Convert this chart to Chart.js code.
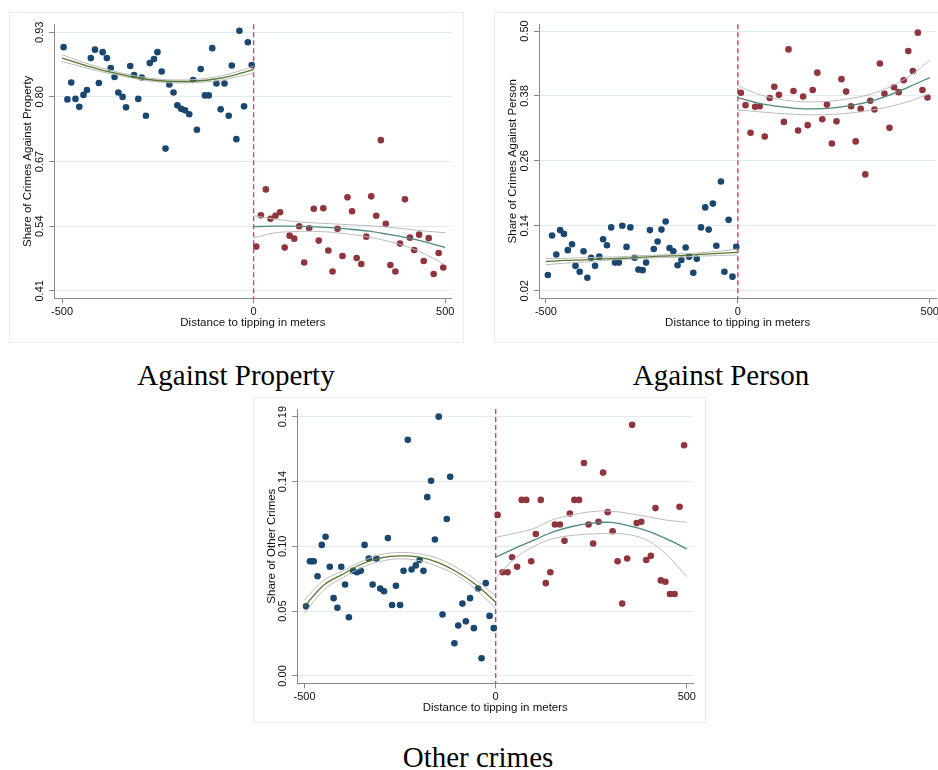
<!DOCTYPE html>
<html>
<head>
  <title>Crime shares around the tipping point</title>
  <script src="https://cdn.jsdelivr.net/npm/chart.js"></script>
  <style>
    body { margin: 0; background: #fff; width: 938px; height: 770px; overflow: hidden; position: relative; }
    .panel { position: absolute; border: 1px solid #e6eef0; box-sizing: border-box; background: #fff; }
    .panel canvas { position: absolute; left: -1px; top: -1px; }
    .caption { position: absolute; text-align: center; font-family: "Liberation Serif", "Times New Roman", serif; font-size: 29px; line-height: 34px; color: #000; }
  </style>
</head>
<body>

<div class="panel" style="left:9px; top:12px; width:455px; height:331px;"><canvas id="propChart" width="455" height="331"></canvas></div>
<div class="panel" style="left:494px; top:12px; width:455px; height:331px;"><canvas id="personChart" width="455" height="331"></canvas></div>
<div class="panel" style="left:253px; top:397px; width:453px; height:326px;"><canvas id="otherChart" width="453" height="326"></canvas></div>

<div class="caption" style="left:0; top:358px; width:472px;">Against Property</div>
<div class="caption" style="left:504px; top:358px; width:434px;">Against Person</div>
<div class="caption" style="left:278px; top:740px; width:400px;">Other crimes</div>

<script>
  // binned scatter points, left (before tipping) and right (after tipping)
  const propLeftX = [-496,-486,-476,-465,-455,-444,-435,-425,-414,-404,-394,-383,-373,-363,-353,-342,-333,-322,-312,-301,-292,-281,-271,-260,-251,-240,-230,-220,-209,-199,-189,-179,-168,-158,-148,-138,-127,-117,-108,-97,-86,-76,-65,-57,-45,-37,-25,-15,-5];
  const propLeftY = [0.900,0.795,0.829,0.796,0.780,0.804,0.814,0.878,0.895,0.828,0.890,0.878,0.858,0.840,0.809,0.800,0.779,0.862,0.844,0.796,0.839,0.762,0.868,0.876,0.890,0.851,0.696,0.825,0.809,0.783,0.776,0.773,0.765,0.834,0.734,0.856,0.803,0.803,0.898,0.827,0.775,0.827,0.762,0.863,0.715,0.933,0.781,0.910,0.864];
  const propRightX = [7,19,32,44,57,69,81,94,106,119,132,145,157,170,182,195,206,219,232,245,257,269,281,294,307,320,332,345,357,370,382,395,408,419,432,444,457,470,483,495];
  const propRightY = [0.499,0.562,0.614,0.555,0.561,0.568,0.497,0.521,0.515,0.540,0.467,0.536,0.575,0.511,0.576,0.491,0.449,0.535,0.480,0.598,0.570,0.476,0.464,0.519,0.600,0.561,0.713,0.545,0.462,0.449,0.505,0.594,0.517,0.492,0.523,0.470,0.516,0.444,0.486,0.457];

  const personLeftX = [-495,-484,-473,-463,-453,-443,-432,-423,-412,-402,-392,-382,-372,-361,-351,-341,-330,-320,-310,-301,-290,-280,-269,-259,-248,-239,-229,-219,-209,-199,-188,-178,-168,-157,-147,-136,-127,-116,-107,-96,-85,-76,-65,-56,-44,-35,-24,-14,-4];
  const personLeftY = [0.049,0.122,0.087,0.132,0.125,0.095,0.106,0.066,0.055,0.093,0.044,0.081,0.066,0.083,0.115,0.104,0.137,0.072,0.072,0.140,0.101,0.137,0.081,0.059,0.058,0.072,0.132,0.097,0.111,0.133,0.148,0.099,0.093,0.067,0.077,0.100,0.083,0.053,0.079,0.137,0.174,0.133,0.181,0.103,0.222,0.055,0.151,0.046,0.101];
  const personRightX = [8,20,33,45,57,70,83,95,107,120,132,145,157,170,182,195,207,220,232,245,257,270,282,295,307,320,332,345,356,370,382,395,407,419,432,444,456,469,481,494];
  const personRightY = [0.386,0.363,0.312,0.360,0.361,0.305,0.376,0.397,0.382,0.332,0.466,0.389,0.316,0.379,0.326,0.391,0.423,0.337,0.364,0.292,0.333,0.411,0.388,0.361,0.296,0.356,0.235,0.371,0.355,0.440,0.384,0.321,0.396,0.387,0.409,0.463,0.426,0.497,0.391,0.377];

  const otherLeftX = [-496,-486,-481,-476,-466,-455,-445,-434,-424,-414,-404,-394,-384,-373,-363,-353,-343,-332,-322,-312,-302,-292,-282,-271,-261,-250,-241,-230,-220,-209,-199,-189,-179,-169,-159,-149,-139,-128,-119,-108,-98,-87,-78,-67,-57,-46,-37,-26,-16,-5];
  const otherLeftY = [0.051,0.084,0.084,0.084,0.073,0.096,0.102,0.080,0.057,0.050,0.080,0.067,0.043,0.077,0.076,0.077,0.096,0.086,0.067,0.086,0.064,0.062,0.101,0.052,0.066,0.052,0.077,0.173,0.078,0.081,0.085,0.077,0.131,0.143,0.100,0.190,0.045,0.115,0.146,0.024,0.037,0.053,0.040,0.057,0.035,0.064,0.013,0.068,0.044,0.035];
  const otherRightX = [5,18,31,43,56,68,80,93,105,118,131,143,155,168,180,194,206,218,231,243,255,269,281,293,306,319,331,344,357,369,381,394,406,418,432,444,456,468,481,493];
  const otherRightY = [0.118,0.076,0.076,0.087,0.080,0.129,0.129,0.084,0.104,0.129,0.068,0.076,0.111,0.111,0.099,0.119,0.129,0.129,0.156,0.111,0.097,0.113,0.149,0.120,0.106,0.084,0.053,0.086,0.184,0.112,0.113,0.085,0.088,0.123,0.070,0.069,0.060,0.060,0.124,0.169];

  // quadratic fits with confidence bands, read at every 50 m
  const fitLeftX = [-500,-450,-400,-350,-300,-250,-200,-150,-100,-50,0];
  const fitRightX = [0,50,100,150,200,250,300,350,400,450,500];

  const propFitL = [0.878,0.866,0.855,0.846,0.838,0.833,0.831,0.832,0.836,0.844,0.855];
  const propHiL  = [0.885,0.871,0.859,0.849,0.841,0.836,0.834,0.835,0.840,0.849,0.862];
  const propLoL  = [0.871,0.861,0.851,0.843,0.835,0.830,0.828,0.829,0.832,0.839,0.848];
  const propFitR = [0.539,0.540,0.540,0.539,0.537,0.534,0.530,0.524,0.517,0.508,0.497];
  const propHiR  = [0.561,0.555,0.550,0.547,0.545,0.543,0.541,0.538,0.534,0.530,0.527];
  const propLoR  = [0.516,0.526,0.529,0.530,0.528,0.524,0.518,0.510,0.499,0.483,0.462];

  const personFitL = [0.074,0.076,0.077,0.079,0.080,0.082,0.084,0.085,0.087,0.089,0.091];
  const personHiL  = [0.079,0.080,0.081,0.082,0.083,0.085,0.086,0.088,0.090,0.093,0.097];
  const personLoL  = [0.068,0.071,0.073,0.076,0.078,0.080,0.081,0.082,0.084,0.085,0.086];
  const personFitR = [0.377,0.367,0.361,0.357,0.356,0.358,0.363,0.371,0.383,0.398,0.414];
  const personHiR  = [0.399,0.384,0.375,0.370,0.369,0.371,0.376,0.384,0.398,0.418,0.446];
  const personLoR  = [0.354,0.351,0.348,0.346,0.345,0.346,0.349,0.354,0.361,0.371,0.384];

  const otherFitL = [0.051,0.0665,0.0745,0.082,0.0865,0.088,0.087,0.083,0.076,0.0665,0.054];
  const otherHiL  = [0.056,0.070,0.077,0.084,0.089,0.0905,0.0895,0.086,0.079,0.070,0.0585];
  const otherLoL  = [0.046,0.063,0.072,0.0795,0.084,0.0858,0.0845,0.080,0.0735,0.063,0.0495];
  const otherFitR = [0.087,0.0935,0.0995,0.1055,0.1095,0.112,0.1125,0.110,0.106,0.100,0.093];
  const otherHiR  = [0.1016,0.1045,0.108,0.1145,0.118,0.1204,0.1208,0.119,0.1165,0.114,0.1126];
  const otherLoR  = [0.0716,0.086,0.095,0.1005,0.103,0.104,0.1043,0.1035,0.099,0.088,0.0728];

  // axis ticks
  const xTicks = [-500, 0, 500];
  const propTicks = [0.41, 0.54, 0.67, 0.80, 0.93];
  const propTickLabels = ['0.41', '0.54', '0.67', '0.80', '0.93'];
  const personTicks = [0.02, 0.14, 0.26, 0.38, 0.50];
  const personTickLabels = ['0.02', '0.14', '0.26', '0.38', '0.50'];
  const otherTicks = [0, 0.0475, 0.095, 0.1425, 0.19];
  const otherTickLabels = ['0.00', '0.05', '0.10', '0.14', '0.19'];

  const NAVY = '#1a476f', MAROON = '#90353b';
  const GREEN = '#55772c', TEAL = '#4f8a7c', CI = '#bcbcbc';
  const FONT = '"Liberation Sans", Arial, sans-serif';

  const pts = (xs, ys) => xs.map((x, i) => ({x: x, y: ys[i]}));

  // draws the rotated y tick labels and the dashed cutoff line
  const stataBits = {
    id: 'stataBits',
    beforeDatasetsDraw(chart) {
      const {ctx, chartArea, scales} = chart;
      const px = scales.x.getPixelForValue(0);
      ctx.save();
      ctx.strokeStyle = '#d93d68';
      ctx.lineWidth = 1.4;
      ctx.setLineDash([5, 3]);
      ctx.beginPath();
      ctx.moveTo(px, chartArea.top);
      ctx.lineTo(px, chartArea.bottom);
      ctx.stroke();
      ctx.restore();
    },
    afterDraw(chart, args, opts) {
      const {ctx, chartArea, scales} = chart;
      ctx.save();
      ctx.font = '11px ' + FONT;
      ctx.fillStyle = '#111';
      ctx.textAlign = 'center';
      ctx.textBaseline = 'middle';
      opts.values.forEach((v, i) => {
        ctx.save();
        ctx.translate(chartArea.left - 14, scales.y.getPixelForValue(v));
        ctx.rotate(-Math.PI / 2);
        ctx.fillText(opts.labels[i], 0, 0);
        ctx.restore();
      });
      ctx.restore();
    }
  };

  function lineSet(xs, ys, color, width) {
    return {
      type: 'line', data: pts(xs, ys), borderColor: color, borderWidth: width,
      pointRadius: 0, tension: 0.35, fill: false
    };
  }

  function makeChart(id, cfg) {
    const c = document.getElementById(id);
    const W = c.width, H = c.height;
    return new Chart(c, {
      type: 'scatter',
      data: {
        datasets: [
          lineSet(fitLeftX, cfg.fitL, GREEN, 1.3),
          lineSet(fitLeftX, cfg.hiL, CI, 1),
          lineSet(fitLeftX, cfg.loL, CI, 1),
          lineSet(fitRightX, cfg.fitR, TEAL, 1.3),
          lineSet(fitRightX, cfg.hiR, CI, 1),
          lineSet(fitRightX, cfg.loR, CI, 1),
          {data: pts(cfg.lx, cfg.ly), backgroundColor: NAVY, borderWidth: 0, pointRadius: 3.3},
          {data: pts(cfg.rx, cfg.ry), backgroundColor: MAROON, borderWidth: 0, pointRadius: 3.3}
        ]
      },
      options: {
        responsive: false,
        animation: false,
        devicePixelRatio: 1,
        layout: {padding: {left: 0, top: cfg.top, right: W - cfg.right, bottom: 0}},
        plugins: {
          legend: {display: false},
          tooltip: {enabled: false},
          stataBits: {values: cfg.ticks, labels: cfg.labels}
        },
        scales: {
          x: {
            type: 'linear', min: cfg.xmin, max: cfg.xmax,
            afterBuildTicks: s => { s.ticks = xTicks.map(v => ({value: v})); },
            afterFit: s => { s.height = H - cfg.bottom; },
            grid: {drawOnChartArea: false, drawTicks: true, tickLength: 5, tickColor: '#888'},
            border: {color: '#888', width: 1},
            ticks: {color: '#111', font: {family: FONT, size: 11}, padding: 2, maxRotation: 0},
            title: {display: true, text: 'Distance to tipping in meters', color: '#111',
                    font: {family: FONT, size: 11.5}, padding: {top: 0, bottom: cfg.xTitlePad}}
          },
          y: {
            type: 'linear', min: cfg.ymin, max: cfg.ymax,
            afterBuildTicks: s => { s.ticks = cfg.ticks.map(v => ({value: v})); },
            afterFit: s => { s.width = cfg.left; },
            grid: {color: '#e3edf0', lineWidth: 1, drawTicks: true, tickLength: 5, tickColor: '#888'},
            border: {color: '#888', width: 1},
            ticks: {display: false},
            title: {display: true, text: cfg.yTitle, color: '#111',
                    font: {family: FONT, size: 11.5}, padding: {top: 12, bottom: 0}}
          }
        }
      },
      plugins: [stataBits]
    });
  }

  makeChart('propChart', {
    lx: propLeftX, ly: propLeftY, rx: propRightX, ry: propRightY,
    fitL: propFitL, hiL: propHiL, loL: propLoL, fitR: propFitR, hiR: propHiR, loR: propLoR,
    ticks: propTicks, labels: propTickLabels, ymin: 0.395, ymax: 0.946, xmin: -521, xmax: 517,
    left: 45, right: 442.7, top: 12.3, bottom: 286.3, xTitlePad: 13.4,
    yTitle: 'Share of Crimes Against Property'
  });

  makeChart('personChart', {
    lx: personLeftX, ly: personLeftY, rx: personRightX, ry: personRightY,
    fitL: personFitL, hiL: personHiL, loL: personLoL, fitR: personFitR, hiR: personHiR, loR: personLoR,
    ticks: personTicks, labels: personTickLabels, ymin: 0.006, ymax: 0.5124, xmin: -518, xmax: 517,
    left: 45, right: 442.3, top: 12.3, bottom: 286.3, xTitlePad: 13.4,
    yTitle: 'Share of Crimes Against Person'
  });

  makeChart('otherChart', {
    lx: otherLeftX, ly: otherLeftY, rx: otherRightX, ry: otherRightY,
    fitL: otherFitL, hiL: otherHiL, loL: otherLoL, fitR: otherFitR, hiR: otherHiR, loR: otherLoR,
    ticks: otherTicks, labels: otherTickLabels, ymin: -0.0054, ymax: 0.1956, xmin: -519, xmax: 517,
    left: 44.3, right: 440.3, top: 12, bottom: 286.3, xTitlePad: 8.1,
    yTitle: 'Share of Other Crimes'
  });
</script>

</body>
</html>
